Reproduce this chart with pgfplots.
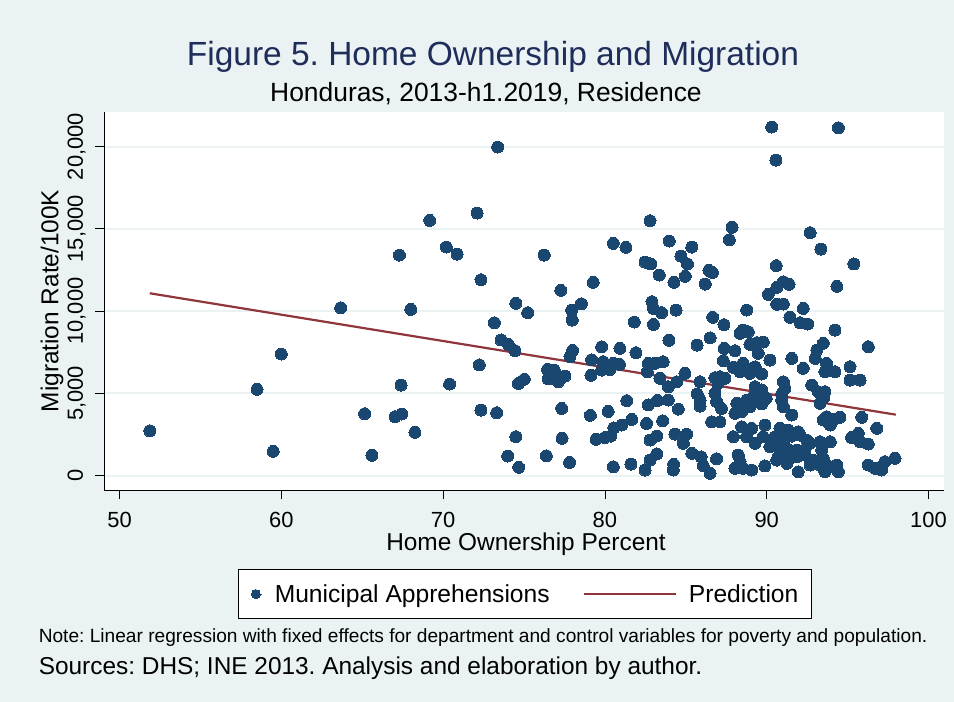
\documentclass[border=0pt]{standalone}
\usepackage{pgfplots}
\pgfplotsset{compat=1.18}
\usepackage{fontspec}
\setmainfont{Liberation Sans}
\frenchspacing

\definecolor{stbg}{RGB}{234,242,243}
\definecolor{stnavy}{RGB}{26,71,111}
\definecolor{stmaroon}{RGB}{144,53,59}
\definecolor{sttitle}{RGB}{30,45,90}

% legend keys: a single dot, and a long line segment
\pgfplotsset{
  dotkey/.style={legend image code/.code={%
    \draw[##1, mark size=4.5bp] plot coordinates {(0bp,0bp)};
    \path (0bp,0bp) -- (6.5bp,0bp);}},
  linekey/.style={legend image code/.code={\draw[##1] (0bp,0bp) -- (92bp,0bp);}},
}

% municipality-level observations: home ownership (%) vs migration rate per 100K
\pgfplotstableread{
x y
51.87 2720
58.5 5240
59.5 1470
60.0 7385
63.67 10200
65.15 3760
65.6 1230
67.03 3575
67.3 13400
67.4 5500
67.44 3740
68.0 10100
68.26 2625
69.17 15510
70.2 13890
70.4 5560
70.86 13465
72.1 15960
72.24 6720
72.34 11900
72.34 3980
73.17 9290
73.31 3820
73.37 19970
73.58 8240
73.99 1185
74.03 7975
74.44 7590
74.49 10470
74.49 2360
74.65 5600
74.67 500
75.02 5850
75.23 9900
76.25 13400
76.38 1200
76.46 6450
76.5 5870
76.87 6410
77.0 6010
77.12 5700
77.27 11260
77.33 4080
77.35 2260
77.53 6050
77.82 800
77.84 7220
77.95 10060
77.98 9450
78.0 7600
78.55 10445
79.1 3660
79.14 6090
79.18 7040
79.28 11745
79.45 2200
79.8 7830
79.8 6410
79.9 6920
80.0 2310
80.2 3900
80.32 6450
80.36 2400
80.52 14115
80.52 6820
80.52 535
80.55 2890
80.9 6760
80.93 7730
81.04 3070
81.3 13870
81.35 4550
81.61 700
81.66 3415
81.82 9330
81.92 7465
82.48 12980
82.48 335
82.58 3170
82.62 6310
82.68 6820
82.68 4290
82.79 15490
82.79 2160
82.79 940
82.83 12860
82.91 10570
83.0 10160
83.0 9190
83.1 6820
83.2 2400
83.2 1310
83.25 4570
83.36 12190
83.4 5910
83.5 9900
83.57 3330
83.6 6920
83.92 5400
83.92 4590
83.96 8220
83.98 14255
84.25 680
84.23 335
84.27 11745
84.33 2520
84.4 10060
84.44 5700
84.54 4040
84.7 13340
84.85 1960
84.95 6210
84.97 12110
85.05 2520
85.1 12860
85.37 13890
85.37 1350
85.7 4970
85.7 7930
85.88 5700
85.88 4590
85.88 4225
85.95 1140
86.08 600
86.2 11640
86.43 12470
86.5 135
86.5 8370
86.6 3270
86.64 12350
86.66 9620
86.8 5000
86.8 5950
86.9 4500
86.9 1020
87.0 5600
87.1 3270
87.11 6010
87.2 4085
87.32 6980
87.36 9170
87.38 7730
87.42 5910
87.69 14335
87.86 15090
87.94 6580
87.94 2360
88.04 7590
88.04 3780
88.04 440
88.15 4390
88.24 1245
88.35 8645
88.35 6310
88.35 840
88.45 3880
88.45 4180
88.45 2965
88.55 6820
88.55 8845
88.55 4350
88.55 440
88.76 10060
88.76 4590
88.76 2360
88.86 8740
88.96 6210
88.96 4180
88.96 7975
89.07 2870
89.07 335
89.17 4790
89.28 6610
89.28 5400
89.28 1960
89.38 8075
89.48 7430
89.69 6170
89.69 5200
89.69 4350
89.79 8115
89.79 2360
89.89 3070
89.89 580
89.97 4690
90.1 11015
90.2 7020
90.2 1750
90.31 21185
90.51 2360
90.57 19180
90.59 12760
90.62 11440
90.62 10410
90.62 940
90.72 1750
90.72 1140
90.82 2870
90.93 4590
90.93 4950
91.03 11780
91.03 10425
91.03 5700
91.03 4180
91.03 2360
91.13 5300
91.24 1650
91.24 740
91.33 2765
91.33 940
91.38 11620
91.44 9620
91.55 7120
91.55 3680
91.55 2400
91.86 1550
91.86 1140
91.95 2660
91.95 230
92.06 9290
92.06 2460
92.26 10160
92.26 6520
92.37 1590
92.37 1245
92.47 2160
92.53 9210
92.68 1960
92.68 640
92.69 14760
92.78 5500
92.88 940
93.0 7120
93.1 7630
93.19 5095
93.3 4390
93.3 2055
93.3 640
93.35 13770
93.4 1550
93.5 8040
93.5 4690
93.5 3375
93.5 1045
93.6 6310
93.6 5100
93.6 230
93.7 6820
93.7 3575
93.93 3070
93.93 2055
93.93 535
94.12 3400
94.22 8845
94.22 6310
94.33 640
94.34 11500
94.43 21140
94.43 230
94.53 3540
95.15 6615
95.15 5800
95.25 2320
95.39 12860
95.66 2565
95.77 5800
95.77 2055
95.87 3540
96.28 7830
96.28 1915
96.28 640
96.7 440
96.8 2870
97.1 335
97.3 840
97.93 1045
}\municipal

% fitted values of the regression
\pgfplotstableread{
x y
51.87 11080
97.98 3700
}\prediction

\begin{document}
\begin{tikzpicture}[x=1bp,y=1bp]
\fill[stbg] (0,0) rectangle (954,-702);

\node[anchor=base, inner sep=0pt, text=sttitle,
      font=\fontsize{33.6}{40}\selectfont] at (493,-66)
      {Figure 5. Home Ownership and Migration};
\node[anchor=base, inner sep=0pt,
      font=\fontsize{26.5}{32}\selectfont] at (486,-102)
      {Honduras, 2013-h1.2019, Residence};

\begin{axis}[
  at={(104bp,-490bp)}, anchor=south west,
  scale only axis, width=840bp, height=378bp,
  xmin=49.04, xmax=100.96,
  ymin=-880, ymax=22100,
  xtick={50,60,...,100},
  ytick={0,5000,...,20000},
  scaled ticks=false,
  /pgf/number format/.cd, 1000 sep={,}, assume math mode=true,
  /pgfplots/.cd,
  axis background/.style={fill=white},
  axis x line*=bottom, axis y line*=left,
  axis line style={black, line width=0.8bp},
  tick align=outside,
  major tick length=9bp,
  tick style={black, line width=0.8bp},
  ymajorgrids,
  major grid style={stbg, line width=2bp},
  tick label style={font=\fontsize{22}{26}\selectfont, inner sep=0pt},
  xticklabel style={anchor=north, yshift=-13bp},
  yticklabel style={xshift=-12bp, rotate=90, anchor=base},
  xlabel={Home Ownership Percent},
  ylabel={Migration Rate/100K},
  label style={font=\fontsize{24.5}{29}\selectfont, inner sep=0pt},
  xlabel style={at={(axis description cs:0.5024,-0.1587)}, anchor=base},
  ylabel style={at={(axis description cs:-0.0542,0.5)}, anchor=base},
  clip=false,
  legend columns=2,
  legend style={
    at={(axis description cs:0.1595,-0.209)}, anchor=north west,
    draw=black, line width=0.8bp, fill=white,
    inner xsep=13bp, inner ysep=15bp,
    font=\fontsize{24.7}{29}\selectfont,
    nodes={inner sep=0pt},
    /tikz/every odd column/.style={column sep=12bp},
    /tikz/every even column/.style={column sep=33bp},
  },
]
\addplot[color=stnavy, only marks, mark=*, mark size=6bp,
         mark options={fill=stnavy, draw=stnavy, line width=0pt}, dotkey]
  table[x=x, y=y] {\municipal};
\addlegendentry{Municipal Apprehensions}
\addplot[stmaroon, line width=2.2bp, no marks, linekey]
  table[x=x, y=y] {\prediction};
\addlegendentry{Prediction}
\end{axis}

\node[anchor=base west, inner sep=0pt,
      font=\fontsize{19.2}{23}\selectfont] at (38.6,-642)
      {Note: Linear regression with fixed effects for department and control variables for poverty and population.};
\node[anchor=base west, inner sep=0pt,
      font=\fontsize{24.5}{29}\selectfont] at (38.6,-674)
      {Sources: DHS; INE 2013. Analysis and elaboration by author.};
\end{tikzpicture}
\end{document}
